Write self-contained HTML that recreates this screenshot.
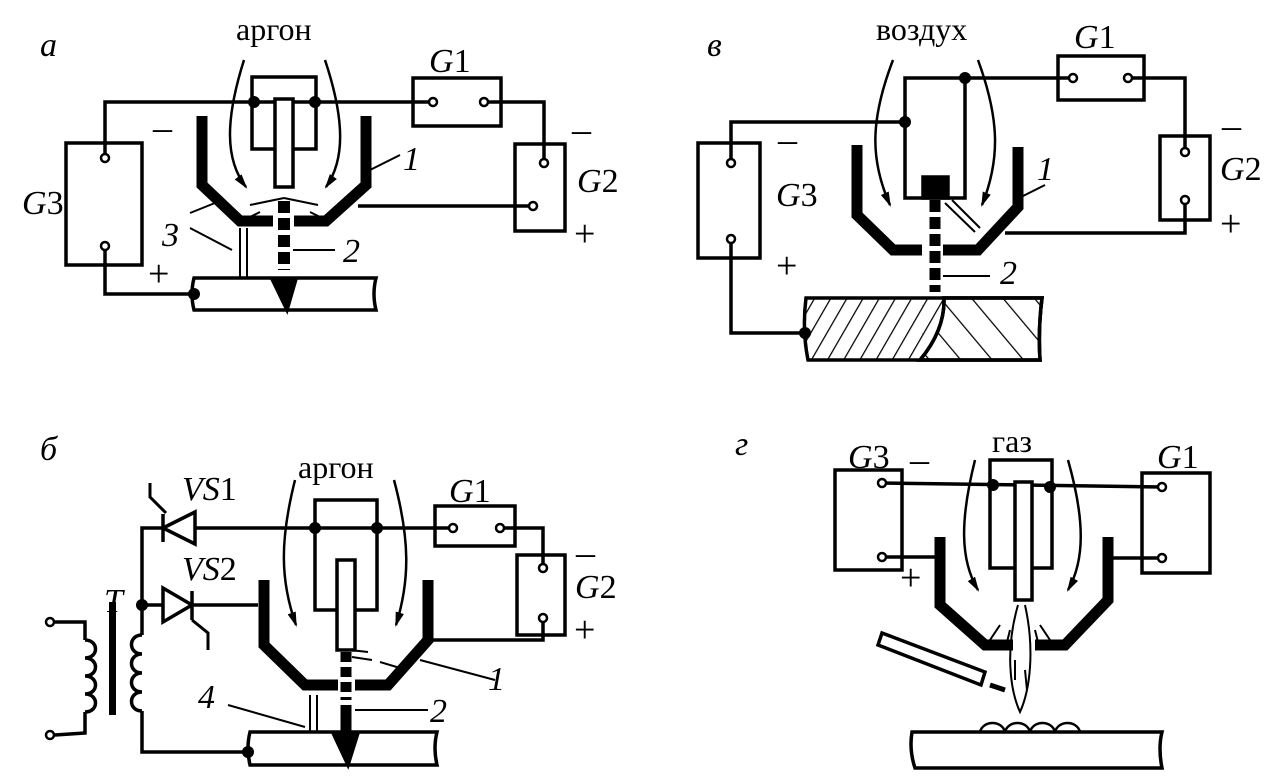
<!DOCTYPE html>
<html><head><meta charset="utf-8"><style>
html,body{margin:0;padding:0;background:#fff;}
svg{display:block;}
text{font-family:"Liberation Serif",serif;fill:#000;}
.i{font-style:italic;}
</style></head><body>
<svg width="1285" height="781" viewBox="0 0 1285 781" xmlns="http://www.w3.org/2000/svg">
<defs>
<marker id="ah" viewBox="0 0 14 10" refX="12" refY="5" markerWidth="6" markerHeight="6" orient="auto"><path d="M0,1 L14,5 L0,9 Z" fill="#000"/></marker>
<pattern id="hatchL" patternUnits="userSpaceOnUse" width="14" height="14" patternTransform="rotate(30)"><line x1="0" y1="0" x2="0" y2="14" stroke="#000" stroke-width="2.5"/></pattern>
<pattern id="hatchR" patternUnits="userSpaceOnUse" width="24" height="24" patternTransform="rotate(-40)"><line x1="0" y1="0" x2="0" y2="24" stroke="#000" stroke-width="2.5"/></pattern>
</defs>
<g fill="none" stroke="#000" stroke-width="3.5" stroke-linejoin="miter">

<!-- ===== Panel а ===== -->
<rect x="66" y="143" width="76" height="122"/>
<rect x="413" y="78" width="88" height="48"/>
<rect x="515" y="144" width="50" height="87"/>
<polyline points="105,158 105,102 433,102"/>
<polyline points="484,102 544,102 544,163"/>
<polyline points="533,206 358,206"/>
<polyline points="105,246 105,294 194,294"/>
<rect x="252" y="77" width="64" height="72"/>
<rect x="275" y="99" width="18" height="88" fill="#fff"/>
<polyline points="202,116 202,185 240,221 273,221" stroke-width="11"/>
<polyline points="366,116 366,185 326,221 294,221" stroke-width="11"/>
<line x1="284" y1="201" x2="284" y2="270" stroke-width="12" stroke-dasharray="12,5"/>
<path d="M194,278 L376,278 Q372,294 376,310 L194,310 Q190,294 194,278 Z"/>
<path d="M272,279 L296,279 L287,310 Z" fill="#000"/>
<line x1="240" y1="228" x2="240" y2="278" stroke-width="2"/><line x1="247" y1="228" x2="247" y2="278" stroke-width="2"/>
<path d="M244,60 C225,120 225,160 246,187" stroke-width="2.5" marker-end="url(#ah)"/>
<path d="M325,60 C345,120 345,160 326,187" stroke-width="2.5" marker-end="url(#ah)"/>
<path d="M284,198 L250,205 M284,198 L318,205 M260,212 L240,222 M310,212 L330,222" stroke-width="2"/>
<line x1="370" y1="170" x2="400" y2="155" stroke-width="2"/>
<line x1="190" y1="213" x2="215" y2="203" stroke-width="2"/>
<line x1="190" y1="228" x2="232" y2="250" stroke-width="2"/>
<line x1="293" y1="250" x2="335" y2="250" stroke-width="2"/>

<!-- ===== Panel в ===== -->
<rect x="698" y="143" width="62" height="115"/>
<rect x="1058" y="56" width="86" height="44"/>
<rect x="1160" y="136" width="50" height="84"/>
<polyline points="731,163 731,122 905,122"/>
<rect x="905" y="78" width="60" height="120"/>
<polyline points="965,78 1073,78"/>
<polyline points="1128,78 1185,78 1185,152"/>
<polyline points="1185,200 1185,233 1005,233"/>
<rect x="923" y="177" width="25" height="21" fill="#000"/>
<polyline points="857,145 857,215 893,250 922,250" stroke-width="11"/>
<polyline points="1018,147 1018,207 978,250 943,250" stroke-width="11"/>
<line x1="935" y1="200" x2="935" y2="292" stroke-width="11" stroke-dasharray="12,5"/>
<path d="M806,298 L1042,298 Q1038,330 1040,360 L808,360 Q802,330 806,298 Z" fill="url(#hatchL)"/>
<path d="M944,298 L1042,298 Q1038,330 1040,360 L920,360 Q945,330 944,298 Z" fill="#fff"/>
<path d="M944,298 L1042,298 Q1038,330 1040,360 L920,360 Q945,330 944,298 Z" fill="url(#hatchR)"/>
<polyline points="731,239 731,333 805,333"/>
<path d="M893,60 C870,120 870,160 890,205" stroke-width="2.5" marker-end="url(#ah)"/>
<path d="M978,60 C1000,120 1000,160 982,205" stroke-width="2.5" marker-end="url(#ah)"/>
<path d="M945,203 L975,232 M952,200 L980,228" stroke-width="2"/>
<line x1="1015" y1="200" x2="1045" y2="185" stroke-width="2"/>
<line x1="943" y1="276" x2="990" y2="276" stroke-width="2"/>

<!-- ===== Panel б ===== -->
<rect x="435" y="506" width="80" height="40"/>
<rect x="517" y="555" width="48" height="80"/>
<polyline points="142,605 142,528 453,528"/>
<polyline points="500,528 543,528 543,568"/>
<polyline points="543,618 543,640 430,640"/>
<rect x="315" y="500" width="62" height="110"/>
<rect x="337" y="560" width="18" height="90" fill="#fff"/>
<polyline points="142,605 258,605"/>
<polyline points="264,580 264,645 305,685 338,685" stroke-width="11"/>
<polyline points="428,580 428,640 388,685 355,685" stroke-width="11"/>
<line x1="346" y1="652" x2="346" y2="700" stroke-width="11" stroke-dasharray="10,5"/>
<line x1="346" y1="705" x2="346" y2="735" stroke-width="11"/>
<path d="M250,732 L437,732 Q433,748 437,765 L250,765 Q246,748 250,732 Z"/>
<path d="M333,733 L358,733 L348,765 Z" fill="#000"/>
<line x1="310" y1="695" x2="310" y2="732" stroke-width="2"/><line x1="317" y1="695" x2="317" y2="732" stroke-width="2"/>
<path d="M163,528 L195,512 L195,544 Z" fill="#fff"/>
<line x1="163" y1="514" x2="163" y2="542"/>
<polyline points="150,483 150,497 166,513" stroke-width="3"/>
<path d="M192,605 L163,588 L163,622 Z" fill="#fff"/>
<line x1="192" y1="591" x2="192" y2="620"/>
<polyline points="192,620 208,633 208,650" stroke-width="3"/>
<polyline points="55,622 85,622 85,640"/>
<path d="M85,640 c14,0 14,18 0,18 c14,0 14,18 0,18 c14,0 14,18 0,18 c14,0 14,18 0,18"/>
<polyline points="85,712 85,733 55,735"/>
<rect x="109" y="602" width="7" height="113" fill="#000" stroke="none"/>
<polyline points="142,605 142,635"/>
<path d="M142,635 c-14,0 -14,19 0,19 c-14,0 -14,19 0,19 c-14,0 -14,19 0,19 c-14,0 -14,19 0,19"/>
<polyline points="142,711 142,752 248,752"/>
<path d="M295,480 C280,540 280,580 296,625" stroke-width="2.5" marker-end="url(#ah)"/>
<path d="M394,480 C410,540 410,580 396,625" stroke-width="2.5" marker-end="url(#ah)"/>
<path d="M350,650 L368,652 M352,657 L372,660 M380,662 L400,668" stroke-width="2"/>
<line x1="420" y1="660" x2="495" y2="680" stroke-width="2"/>
<line x1="228" y1="705" x2="305" y2="727" stroke-width="2"/>
<line x1="355" y1="710" x2="428" y2="710" stroke-width="2"/>

<!-- ===== Panel г ===== -->
<rect x="835" y="470" width="67" height="100"/>
<rect x="1142" y="473" width="68" height="100"/>
<rect x="990" y="460" width="62" height="108"/>
<polyline points="882,483 1162,487"/>
<polyline points="882,557 935,557"/>
<polyline points="1112,558 1162,558"/>
<rect x="1015" y="482" width="17" height="118" fill="#fff"/>
<polyline points="940,537 940,605 985,645 1013,645" stroke-width="11"/>
<polyline points="1108,537 1108,600 1065,645 1035,645" stroke-width="11"/>
<path d="M1018,605 C1005,650 1010,690 1020,712 C1030,690 1035,650 1025,605" stroke-width="2"/>
<path d="M1000,625 L990,640 M1040,625 L1050,640 M1010,630 L1005,650 M1035,630 L1040,650 M1015,660 L1015,680 M1025,670 L1027,690" stroke-width="2"/>
<polygon points="878,645 882,633 985,672 981,685"/>
<line x1="990" y1="685" x2="1005" y2="690" stroke-width="5"/>
<path d="M912,732 L1162,732 Q1158,748 1162,768 L915,768 Q909,750 912,732 Z"/>
<path d="M980,732 c3,-12 22,-12 25,0 c3,-12 22,-12 25,0 c3,-12 22,-12 25,0 c3,-12 22,-12 25,0" stroke-width="2.5"/>
<path d="M975,460 C960,520 960,560 978,590" stroke-width="2.5" marker-end="url(#ah)"/>
<path d="M1068,460 C1085,520 1085,560 1068,590" stroke-width="2.5" marker-end="url(#ah)"/>
</g>

<g fill="#fff" stroke="#000" stroke-width="2.5">
<circle cx="105" cy="158" r="4"/><circle cx="105" cy="246" r="4"/>
<circle cx="433" cy="102" r="4"/><circle cx="484" cy="102" r="4"/>
<circle cx="544" cy="163" r="4"/><circle cx="533" cy="206" r="4"/>
<circle cx="731" cy="163" r="4"/><circle cx="731" cy="239" r="4"/>
<circle cx="1073" cy="78" r="4"/><circle cx="1128" cy="78" r="4"/>
<circle cx="1185" cy="152" r="4"/><circle cx="1185" cy="200" r="4"/>
<circle cx="453" cy="528" r="4"/><circle cx="500" cy="528" r="4"/>
<circle cx="543" cy="568" r="4"/><circle cx="543" cy="618" r="4"/>
<circle cx="50" cy="622" r="4"/><circle cx="50" cy="735" r="4"/>
<circle cx="882" cy="483" r="4"/><circle cx="882" cy="557" r="4"/>
<circle cx="1162" cy="487" r="4"/><circle cx="1162" cy="558" r="4"/>
</g>
<g fill="#000">
<circle cx="254" cy="102" r="6"/><circle cx="315" cy="102" r="6"/><circle cx="194" cy="294" r="6"/>
<circle cx="905" cy="122" r="6"/><circle cx="965" cy="78" r="6"/><circle cx="805" cy="333" r="6"/>
<circle cx="315" cy="528" r="6"/><circle cx="377" cy="528" r="6"/><circle cx="142" cy="605" r="6"/><circle cx="248" cy="752" r="6"/>
<circle cx="993" cy="485" r="6"/><circle cx="1050" cy="487" r="6"/>
</g>

<g font-size="34">
<text x="40" y="56" class="i">а</text>
<text x="707" y="56" class="i">в</text>
<text x="40" y="460" class="i">б</text>
<text x="735" y="455" class="i">г</text>
<text x="236" y="40" font-size="32">аргон</text>
<text x="876" y="40" font-size="32">воздух</text>
<text x="298" y="478" font-size="32">аргон</text>
<text x="992" y="452" font-size="32">газ</text>
<text x="429" y="72"><tspan class="i">G</tspan>1</text>
<text x="1074" y="48"><tspan class="i">G</tspan>1</text>
<text x="449" y="502"><tspan class="i">G</tspan>1</text>
<text x="1157" y="468"><tspan class="i">G</tspan>1</text>
<text x="22" y="214"><tspan class="i">G</tspan>3</text>
<text x="776" y="206"><tspan class="i">G</tspan>3</text>
<text x="848" y="468"><tspan class="i">G</tspan>3</text>
<text x="577" y="192"><tspan class="i">G</tspan>2</text>
<text x="1220" y="180"><tspan class="i">G</tspan>2</text>
<text x="575" y="598"><tspan class="i">G</tspan>2</text>
<text x="182" y="500" class="i">VS<tspan font-style="normal">1</tspan></text>
<text x="182" y="580" class="i">VS<tspan font-style="normal">2</tspan></text>
<text x="104" y="612" class="i">T</text>
<text x="403" y="170" class="i">1</text>
<text x="1037" y="180" class="i">1</text>
<text x="488" y="690" class="i">1</text>
<text x="343" y="262" class="i">2</text>
<text x="1000" y="284" class="i">2</text>
<text x="430" y="722" class="i">2</text>
<text x="162" y="246" class="i">3</text>
<text x="198" y="708" class="i">4</text>
</g>
<g font-size="38" font-family="Liberation Sans, sans-serif">
<text x="153" y="140">–</text><text x="148" y="286">+</text>
<text x="572" y="142">–</text><text x="574" y="246">+</text>
<text x="778" y="152">–</text><text x="776" y="278">+</text>
<text x="1222" y="138">–</text><text x="1220" y="236">+</text>
<text x="576" y="565">–</text><text x="574" y="642">+</text>
<text x="910" y="472">–</text><text x="900" y="590">+</text>
</g>
</svg>
</body></html>
